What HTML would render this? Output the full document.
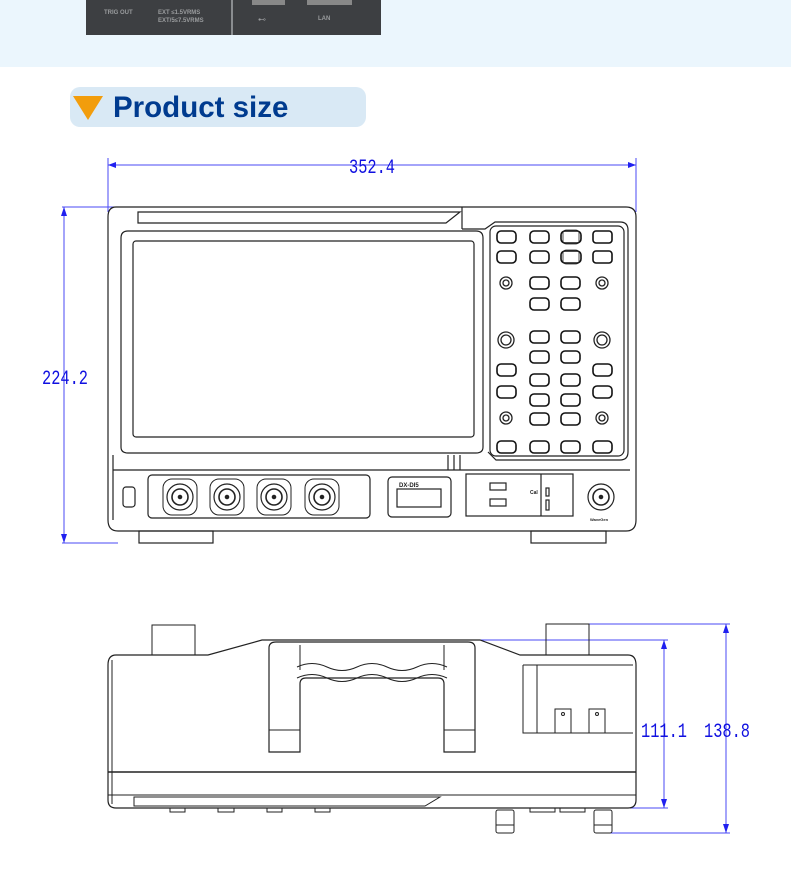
<!DOCTYPE html>
<html><head><meta charset="utf-8"><style>
html,body{margin:0;padding:0;width:791px;height:879px;background:#fff;overflow:hidden;font-family:"Liberation Sans",sans-serif}
</style></head><body>
<svg width="791" height="879" viewBox="0 0 791 879" xmlns="http://www.w3.org/2000/svg">
<defs>
<g id="bnc" fill="none" stroke="#222"><rect x="-17" y="-18" width="34" height="36" rx="9"/><circle r="13" stroke-width="1.2"/><circle r="8" stroke-width="1.6"/><circle r="1.8" fill="#222"/></g>
</defs>
<rect x="0" y="0" width="791" height="67" fill="#ebf6fd"/>
<rect x="86" y="0" width="295" height="35" fill="#3d3f42"/>
<rect x="231" y="0" width="2" height="35" fill="#8a8d90"/>
<text x="104" y="14" font-size="6" fill="#9a9c9e" font-weight="bold">TRIG OUT</text>
<text x="158" y="14" font-size="6" fill="#9a9c9e" font-weight="bold">EXT ≤1.5VRMS</text>
<text x="158" y="22" font-size="6" fill="#9a9c9e" font-weight="bold">EXT/5≤7.5VRMS</text>
<rect x="252" y="0" width="33" height="5" fill="#888"/><rect x="307" y="0" width="45" height="5" fill="#888"/>
<text x="258" y="22" font-size="8" fill="#9a9c9e">⊷</text>
<text x="318" y="20" font-size="6" fill="#9a9c9e" font-weight="bold">LAN</text>
<rect x="70" y="87" width="296" height="40" rx="10" fill="#d9e9f5"/>
<polygon points="73,96 103,96 88,120" fill="#f29d0c"/>
<text x="113" y="117" font-size="29.5" font-weight="bold" fill="#003b8f">Product size</text>

<g stroke="#4a4af5" stroke-width="1" fill="none">
<line x1="108" y1="158" x2="108" y2="212"/><line x1="636" y1="158" x2="636" y2="212"/>
<line x1="108" y1="165" x2="636" y2="165"/>
<line x1="62" y1="207" x2="118" y2="207"/><line x1="62" y1="543" x2="118" y2="543"/>
<line x1="64" y1="207" x2="64" y2="543"/>
<line x1="580" y1="624" x2="730" y2="624"/><line x1="470" y1="640" x2="668" y2="640"/>
<line x1="630" y1="808" x2="668" y2="808"/><line x1="610" y1="833" x2="730" y2="833"/>
<line x1="664" y1="640" x2="664" y2="808"/><line x1="726" y1="624" x2="726" y2="833"/>
</g>
<g fill="#2020f0">
<polygon points="108,165 116,162 116,168"/><polygon points="636,165 628,162 628,168"/>
<polygon points="64,207 61,216 67,216"/><polygon points="64,543 61,534 67,534"/>
<polygon points="664,640 661,649 667,649"/><polygon points="664,808 661,799 667,799"/>
<polygon points="726,624 723,633 729,633"/><polygon points="726,833 723,824 729,824"/>
</g>
<g font-family="Liberation Mono,monospace" font-size="20" fill="#1010e0">
<text x="349" y="173" textLength="46" lengthAdjust="spacingAndGlyphs">352.4</text>
<text x="42" y="384" textLength="46" lengthAdjust="spacingAndGlyphs">224.2</text>
<text x="641" y="737" textLength="46" lengthAdjust="spacingAndGlyphs">111.1</text>
<text x="704" y="737" textLength="46" lengthAdjust="spacingAndGlyphs">138.8</text>
</g>

<g stroke="#222" fill="none" stroke-width="1.2">
<path d="M116,207 H626 Q636,207 636,217 V520 Q636,531 626,531 H118 Q108,531 108,520 V217 Q108,207 116,207Z"/>
<path d="M138,212 H460 L446,223 H138Z"/>
<line x1="462" y1="207" x2="462" y2="229"/>
<path d="M121,238 Q121,231 128,231 H476 Q483,231 483,238 V447 Q483,453 476,453 H128 Q121,453 121,447Z"/>
<rect x="133" y="241" width="341" height="196" rx="3"/>
<path d="M462,229 H485 L495,222 H620 Q628,222 628,230 V452 Q628,460 620,460 H496 L488,452"/>
<rect x="490" y="226" width="134" height="230" rx="6"/>
<path d="M113,455 V520 M113,470 H630"/>
<line x1="448" y1="455" x2="448" y2="470"/><line x1="454" y1="455" x2="454" y2="470"/><line x1="460" y1="455" x2="460" y2="470"/>
<rect x="148" y="475" width="222" height="43" rx="4"/>
<rect x="123" y="487" width="12" height="20" rx="3"/>
<rect x="388" y="477" width="63" height="40" rx="4"/>
<rect x="397" y="489" width="44" height="18"/>
<rect x="466" y="474" width="107" height="42"/><line x1="541" y1="474" x2="541" y2="516"/>
<rect x="490" y="483" width="16" height="7"/><rect x="490" y="499" width="16" height="7"/>
<rect x="546" y="488" width="3" height="8"/><rect x="546" y="500" width="3" height="10"/>
<rect x="139" y="531" width="74" height="12"/><rect x="531" y="531" width="75" height="12"/>
</g>
<text x="399" y="487" font-size="6" font-weight="bold" fill="#222">DX-DI5</text>
<text x="530" y="494" font-size="5" font-weight="bold" fill="#222">Cal</text>
<text x="590" y="521" font-size="4" font-weight="bold" fill="#222">WaveGen</text>
<use href="#bnc" x="180" y="497"/><use href="#bnc" x="227" y="497"/><use href="#bnc" x="274" y="497"/><use href="#bnc" x="322" y="497"/>
<g fill="none" stroke="#222">
<circle cx="601" cy="497" r="13" stroke-width="1.2"/><circle cx="601" cy="497" r="8" stroke-width="1.6"/><circle cx="601" cy="497" r="1.8" fill="#222"/>
</g>
<g fill="none" stroke="#111" stroke-width="1.6">
<rect x="497" y="231" width="19" height="12" rx="4"/><rect x="530" y="231" width="19" height="12" rx="4"/><rect x="561" y="231" width="20" height="12" rx="4"/><rect x="593" y="231" width="19" height="12" rx="3"/>
<rect x="497" y="251" width="19" height="12" rx="4"/><rect x="530" y="251" width="19" height="12" rx="4"/><rect x="561" y="251" width="20" height="12" rx="4"/><rect x="593" y="251" width="19" height="12" rx="3"/>
<rect x="530" y="277" width="19" height="12" rx="4"/><rect x="561" y="277" width="19" height="12" rx="4"/>
<rect x="530" y="298" width="19" height="12" rx="4"/><rect x="561" y="298" width="19" height="12" rx="4"/>
<rect x="530" y="331" width="19" height="12" rx="4"/><rect x="561" y="331" width="19" height="12" rx="4"/>
<rect x="530" y="351" width="19" height="12" rx="4"/><rect x="561" y="351" width="19" height="12" rx="4"/>
<rect x="497" y="364" width="19" height="12" rx="4"/><rect x="593" y="364" width="19" height="12" rx="4"/>
<rect x="530" y="374" width="19" height="12" rx="4"/><rect x="561" y="374" width="19" height="12" rx="4"/>
<rect x="497" y="386" width="19" height="12" rx="4"/><rect x="593" y="386" width="19" height="12" rx="4"/>
<rect x="530" y="394" width="19" height="12" rx="4"/><rect x="561" y="394" width="19" height="12" rx="4"/>
<rect x="530" y="413" width="19" height="12" rx="4"/><rect x="561" y="413" width="19" height="12" rx="4"/>
<rect x="497" y="441" width="19" height="12" rx="4"/><rect x="530" y="441" width="19" height="12" rx="4"/><rect x="561" y="441" width="19" height="12" rx="4"/><rect x="593" y="441" width="19" height="12" rx="4"/>
</g>
<g fill="none" stroke="#222" stroke-width="1.3">
<circle cx="506" cy="283" r="6"/><circle cx="506" cy="283" r="3"/><circle cx="602" cy="283" r="6"/><circle cx="602" cy="283" r="3"/>
<circle cx="506" cy="340" r="8"/><circle cx="506" cy="340" r="5"/><circle cx="602" cy="340" r="8"/><circle cx="602" cy="340" r="5"/>
<circle cx="506" cy="418" r="6"/><circle cx="506" cy="418" r="3"/><circle cx="602" cy="418" r="6"/><circle cx="602" cy="418" r="3"/>
<rect x="563" y="230" width="16" height="14" rx="3" stroke-width="0.8"/><rect x="563" y="250" width="16" height="14" rx="3" stroke-width="0.8"/>
</g>

<g stroke="#222" fill="none" stroke-width="1">
<rect x="152" y="625" width="43" height="30"/><rect x="546" y="624" width="43" height="31"/>
<path d="M116,655 H208 L262,640 H480 L520,655 H628 Q636,655 636,665 V800 Q636,808 628,808 H116 Q108,808 108,800 V665 Q108,655 116,655Z" stroke-width="1.2"/>
<line x1="112" y1="660" x2="112" y2="804"/>
<path d="M269,752 V648 Q269,642 276,642 H468 Q475,642 475,648 V752 H444 V684 Q444,678 438,678 H306 Q300,678 300,684 V752Z" stroke-width="1.2"/>
<line x1="300" y1="645" x2="300" y2="670"/><line x1="444" y1="645" x2="444" y2="670"/>
<path d="M297,667 Q312,660 327,667 T357,667 T387,667 T417,667 T447,667"/>
<path d="M297,678 Q312,671 327,678 T357,678 T387,678 T417,678 T447,678"/>
<line x1="269" y1="730" x2="300" y2="730"/><line x1="444" y1="730" x2="475" y2="730"/>
<path d="M523,665 V733 H633 M537,665 V733 M523,665 H633"/>
<rect x="555" y="709" width="16" height="24"/><rect x="589" y="709" width="16" height="24"/>
<circle cx="563" cy="714" r="1.5"/><circle cx="597" cy="714" r="1.5"/>
<line x1="108" y1="772" x2="636" y2="772" stroke-width="1.4"/>
<line x1="108" y1="795" x2="636" y2="795"/>
<path d="M134,797 H440 L425,806 H134Z"/>
<rect x="170" y="808" width="15" height="4"/><rect x="218" y="808" width="16" height="4"/><rect x="267" y="808" width="15" height="4"/><rect x="315" y="808" width="15" height="4"/>
<rect x="496" y="810" width="18" height="23" rx="2"/><line x1="496" y1="825" x2="514" y2="825"/><rect x="530" y="808" width="25" height="4"/><rect x="560" y="808" width="25" height="4"/><rect x="594" y="810" width="18" height="23" rx="2"/><line x1="594" y1="825" x2="612" y2="825"/>
</g>
</svg>
</body></html>
